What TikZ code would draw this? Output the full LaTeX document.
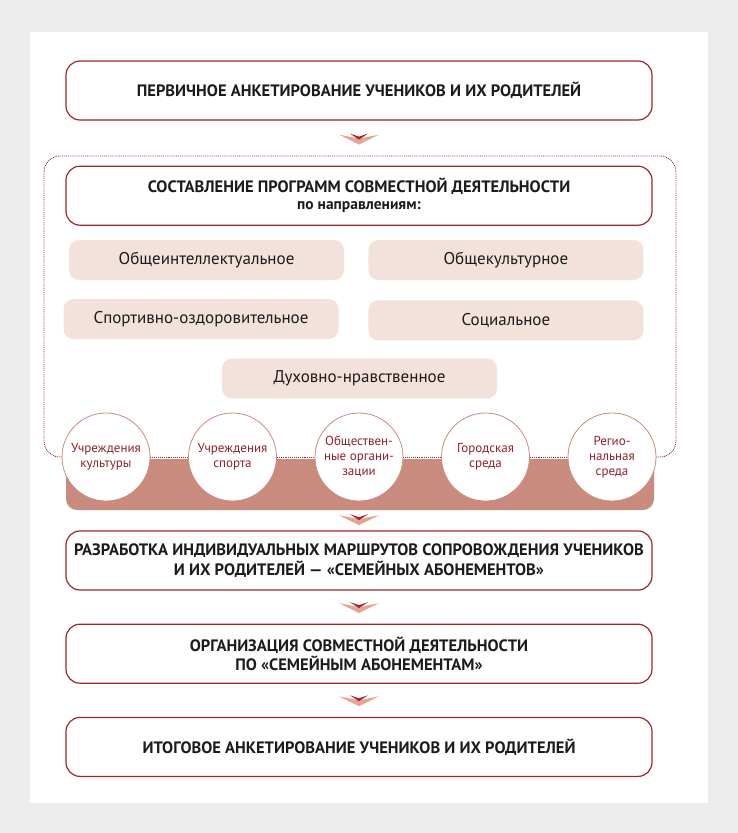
\documentclass[tikz,border=0pt]{standalone}
\usepackage{fontspec}
\setmainfont{PT Sans}
\usetikzlibrary{calc, positioning}
\definecolor{frameRed}{RGB}{160, 38, 45}
\definecolor{bandRose}{RGB}{201, 139, 125}
\definecolor{tilePink}{RGB}{243, 226, 220}
\definecolor{chevPink}{RGB}{228, 164, 150}
\definecolor{pageGray}{RGB}{236, 236, 236}
\definecolor{inkDark}{RGB}{28, 28, 28}

\begin{document}
\begin{tikzpicture}[
  x=1pt, y=-1pt,
  stage/.style={draw=frameRed, line width=1.2pt, rounded corners=14pt, fill=white,
                minimum width=586pt, minimum height=59pt, align=center, text=inkDark,
                font=\bfseries\fontsize{16.5}{19.5}\selectfont},
  area/.style={fill=tilePink, rounded corners=10pt, minimum width=275pt,
               minimum height=40pt, text=inkDark, font=\fontsize{17}{20}\selectfont},
  partner/.style={circle, draw=bandRose, line width=0.8pt, fill=white, minimum size=88pt,
                  inner sep=0pt, align=center, text=frameRed!90!black,
                  font=\fontsize{13}{15}\selectfont},
  link/.style={frameRed, densely dotted, line width=0.9pt},
  chev/.pic={
    \fill[chevPink] (-20,-4) -- (0,0) -- (20,-4) -- (0,6) -- cycle;
    \fill[frameRed] (-9,-5) -- (0,-2) -- (9,-5) -- (0,1) -- cycle;
  }
]
  % page
  \fill[pageGray] (0,0) rectangle (738,833);
  \fill[white] (30,32) rectangle (708,803);
  \useasboundingbox (0,0) rectangle (738,833);

  % stages
  \node[stage] (b1) at (359,90.5)
    {ПЕРВИЧНОЕ АНКЕТИРОВАНИЕ УЧЕНИКОВ И ИХ РОДИТЕЛЕЙ};
  \node[stage, below=45pt of b1] (b2)
    {СОСТАВЛЕНИЕ ПРОГРАММ СОВМЕСТНОЙ ДЕЯТЕЛЬНОСТИ\\[-2.5pt]{\fontsize{15.5}{16}\selectfont по направлениям:}};
  \node[stage] (b3) at (359,560.5)
    {РАЗРАБОТКА ИНДИВИДУАЛЬНЫХ МАРШРУТОВ СОПРОВОЖДЕНИЯ УЧЕНИКОВ\\И ИХ РОДИТЕЛЕЙ — «СЕМЕЙНЫХ АБОНЕМЕНТОВ»};
  \node[stage, below=33pt of b3] (b4)
    {ОРГАНИЗАЦИЯ СОВМЕСТНОЙ ДЕЯТЕЛЬНОСТИ\\ПО «СЕМЕЙНЫМ АБОНЕМЕНТАМ»};
  \node[stage, below=33pt of b4] (b5)
    {ИТОГОВОЕ АНКЕТИРОВАНИЕ УЧЕНИКОВ И ИХ РОДИТЕЛЕЙ};

  % directions
  \node[area] (t1) at (206.5,260) {Общеинтеллектуальное};
  \node[area, right=24pt of t1] (t2) {Общекультурное};
  \node[area] (t3) at (201,319) {Спортивно-оздоровительное};
  \node[area, below=20pt of t2] (t4) {Социальное};
  \node[area] (t5) at (359.5,378.5) {Духовно-нравственное};

  % partners band
  \fill[bandRose] (66,459) {[rounded corners=11pt] -- (66,510) -- (654,510)} -- (654,459) -- cycle;
  \coordinate (bandfoot) at (359,510);
  \foreach \k/\lbl in {1/{Учреждения\\культуры}, 2/{Учреждения\\спорта},
                       3/{Обществен-\\ные органи-\\зации}, 4/{Городская\\среда},
                       5/{Регио-\\нальная\\среда}}
    \node[partner] (c\k) at ({359+(\k-3)*126.5},457) {\lbl};

  \draw[link, rounded corners=16pt] (c1.west) -- (44,457) -- (44,156) -- (676,156) -- (676,457) -- (c5.east);
  \foreach \a/\b in {1/2, 2/3, 3/4, 4/5}
    \draw[link] (c\a.east) -- (c\b.west);

  % arrows
  \pic at ($(b1.south)!0.4!(b2.north)$) {chev};
  \pic at ($(bandfoot)!0.45!(b3.north)$) {chev};
  \pic at ($(b3.south)!0.5!(b4.north)$) {chev};
  \pic at ($(b4.south)!0.5!(b5.north)$) {chev};
\end{tikzpicture}
\end{document}
